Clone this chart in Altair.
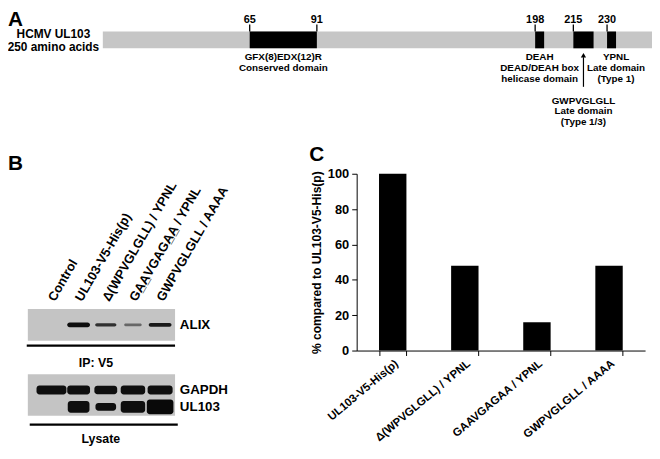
import altair as alt
import pandas as pd

FONT = "Liberation Sans"

# ---------------- Panel A data (amino-acid positions) ----------------
protein_length = 250
domain_start = [65, 198, 215, 230]
domain_end = [92, 202, 224, 234]
tick_pos = [65, 92, 198, 215, 230]
tick_text = ["65", "91", "198", "215", "230"]
desc_text = ["GFX(8)EDX(12)R\nConserved domain",
             "DEAH\nDEAD/DEAH box\nhelicase domain",
             "YPNL\nLate domain\n(Type 1)"]
desc_mid = [78.5, 200, 234]
late_text = "GWPVGLGLL\nLate domain\n(Type 1/3)"
late_mid = 219.5

# ---------------- Panel B data (western blot) ----------------
lanes = [1, 2, 3, 4, 5]
lane_names = ["Control", "UL103-V5-His(p)", "\u0394(WPVGLGLL) / YPNL",
              "GA\u0332A\u0332VGAGA\u0332A\u0332 / YPNL", "GWPVGLGLL / AAAA"]
alix_intensity = [0, 0.95, 0.75, 0.45, 0.88]
alix_thickness = [0, 5, 3.5, 3, 4]
alix_width = [0, 0.84, 0.78, 0.65, 0.84]
gapdh_intensity = [0.95, 0.95, 0.95, 0.95, 0.95]
gapdh_thickness = [9, 9, 8.5, 9, 9]
gapdh_width = [1.1, 0.84, 0.84, 0.9, 0.92]
ul103_intensity = [0, 0.95, 0.95, 0.95, 0.97]
ul103_thickness = [0, 12, 8, 12, 15]
ul103_width = [0, 0.8, 0.76, 0.9, 0.98]
row_names = ["ALIX", "GAPDH", "UL103"]
row_center = [28, 94, 111]

# ---------------- Panel C data ----------------
constructs = ["UL103-V5-His(p)", "\u0394(WPVGLGLL) / YPNL",
              "GAAVGAGAA / YPNL", "GWPVGLGLL / AAAA"]
percent = [100, 48, 16, 48]

# ---------------- scales (layout) ----------------
W, H = 652, 451
xA = alt.Scale(domain=[0, 65, 92, 198, 250], range=[96, 244.7, 312.7, 533.7, 652],
               nice=False, zero=False)
xB = alt.Scale(domain=[1, 5], range=[44, 154], nice=False, zero=False)
yB = alt.Scale(domain=[0, 160], range=[290, 450], nice=False, zero=False)

layers = []


def text_layer(label, x, y, size, align="center", baseline="middle", angle=0, line_height=None):
    props = dict(font=FONT, fontSize=size, fontWeight="bold", color="black",
                 align=align, baseline=baseline, lineBreak="\n")
    if angle:
        props["angle"] = angle
    if line_height:
        props["lineHeight"] = line_height
    return alt.Chart(pd.DataFrame({"label": [label]})).mark_text(**props).encode(
        x=alt.value(x), y=alt.value(y), text="label:N")


# ---- Panel A ----
dfP = pd.DataFrame({"s": [0], "e": [protein_length]})
layers.append(alt.Chart(dfP).mark_rect(color="#c6c6c6").encode(
    x=alt.X("s:Q", scale=xA, axis=None), x2="e:Q",
    y=alt.value(21), y2=alt.value(38)))
dfD = pd.DataFrame({"s": domain_start, "e": domain_end})
layers.append(alt.Chart(dfD).mark_rect(color="black").encode(
    x=alt.X("s:Q", scale=xA, axis=None), x2="e:Q",
    y=alt.value(21), y2=alt.value(38)))
dfT = pd.DataFrame({"p": tick_pos, "t": tick_text})
layers.append(alt.Chart(dfT).mark_rule(color="black", strokeWidth=1.3).encode(
    x=alt.X("p:Q", scale=xA, axis=None), y=alt.value(14), y2=alt.value(21)))
layers.append(alt.Chart(dfT).mark_text(font=FONT, fontSize=11, fontWeight="bold",
                                       color="black", baseline="middle").encode(
    x=alt.X("p:Q", scale=xA, axis=None), y=alt.value(9), text="t:N"))
dfDesc = pd.DataFrame({"m": desc_mid, "t": desc_text})
layers.append(alt.Chart(dfDesc).mark_text(font=FONT, fontSize=10, fontWeight="bold",
                                          color="black", baseline="top", lineBreak="\n",
                                          lineHeight=11).encode(
    x=alt.X("m:Q", scale=xA, axis=None), y=alt.value(42), text="t:N"))
dfL = pd.DataFrame({"m": [late_mid], "t": [late_text]})
layers.append(alt.Chart(dfL).mark_rule(color="black", strokeWidth=1.2).encode(
    x=alt.X("m:Q", scale=xA, axis=None), y=alt.value(47), y2=alt.value(77)))
layers.append(alt.Chart(dfL).mark_point(shape="triangle-up", filled=True, color="black",
                                        size=28, opacity=1).encode(
    x=alt.X("m:Q", scale=xA, axis=None), y=alt.value(45)))
layers.append(alt.Chart(dfL).mark_text(font=FONT, fontSize=10, fontWeight="bold",
                                       color="black", baseline="top", lineBreak="\n",
                                       lineHeight=11).encode(
    x=alt.X("m:Q", scale=xA, axis=None), y=alt.value(86), text="t:N"))
layers.append(text_layer("HCMV UL103\n250 amino acids", 46, 19, 12, baseline="top", line_height=13))
layers.append(text_layer("A", 0, -2, 21, align="left", baseline="top"))

# ---- Panel B ----
dfBlot = pd.DataFrame({"x0": [0.13, 0.13], "x1": [5.55, 5.55], "y0": [12, 78], "y1": [44, 120]})
layers.append(alt.Chart(dfBlot).mark_rect(color="#c4c4c4").encode(
    x=alt.X("x0:Q", scale=xB, axis=None), x2="x1:Q",
    y=alt.Y("y0:Q", scale=yB, axis=None), y2="y1:Q"))

band_rows = []
for name, center, inten, thick, wid in [
        ("ALIX", row_center[0], alix_intensity, alix_thickness, alix_width),
        ("GAPDH", row_center[1], gapdh_intensity, gapdh_thickness, gapdh_width),
        ("UL103", row_center[2], ul103_intensity, ul103_thickness, ul103_width)]:
    for ln, i, t, w in zip(lanes, inten, thick, wid):
        if t > 0:
            band_rows.append({"protein": name, "lane": ln, "intensity": i,
                              "x0": ln - w / 2, "x1": ln + w / 2,
                              "y0": center - t / 2, "y1": center + t / 2})
dfBands = pd.DataFrame(band_rows)
layers.append(alt.Chart(dfBands).mark_rect(cornerRadius=3).encode(
    x=alt.X("x0:Q", scale=xB, axis=None), x2="x1:Q",
    y=alt.Y("y0:Q", scale=yB, axis=None), y2="y1:Q",
    color=alt.Color("intensity:Q", scale=alt.Scale(domain=[0, 1], range=["#c4c4c4", "#000000"]),
                    legend=None)))

dfLanes = pd.DataFrame({"lane": lanes, "name": lane_names})
layers.append(alt.Chart(dfLanes).mark_text(font=FONT, fontSize=13, fontWeight="bold",
                                           color="black", align="left", baseline="middle",
                                           angle=300).encode(
    x=alt.X("lane:Q", scale=xB, axis=None), y=alt.value(293), text="name:N"))

dfLines = pd.DataFrame({"x0": [0.09, 0.2], "x1": [5.55, 5.65], "y": [49, 129]})
layers.append(alt.Chart(dfLines).mark_rule(color="black", strokeWidth=2.2).encode(
    x=alt.X("x0:Q", scale=xB, axis=None), x2="x1:Q",
    y=alt.Y("y:Q", scale=yB, axis=None)))

dfRows = pd.DataFrame({"r": row_names, "c": row_center})
layers.append(alt.Chart(dfRows).mark_text(font=FONT, fontSize=13.5, fontWeight="bold",
                                          color="black", align="left", baseline="middle").encode(
    x=alt.value(174), y=alt.Y("c:Q", scale=yB, axis=None), text="r:N"))
layers.append(text_layer("IP: V5", 89, 357, 12.5))
layers.append(text_layer("Lysate", 94, 434, 12.5))
layers.append(text_layer("B", 0, 144, 21, align="left", baseline="top"))

# ---- Panel C ----
dfC = pd.DataFrame({"construct": constructs, "percent": percent})
layers.append(alt.Chart(dfC).mark_bar(color="black").encode(
    x=alt.X("construct:N",
            scale=alt.Scale(domain=constructs, range=[353, 645], paddingInner=0.62, paddingOuter=0.31),
            axis=alt.Axis(title=None, orient="bottom", offset=-(H - 344), labelAngle=320,
                          labelAlign="right", labelBaseline="top", labelFont=FONT,
                          labelFontSize=11.5, labelFontWeight="bold", labelColor="black",
                          labelPadding=2, tickBand="extent", tickSize=5, tickColor="black",
                          domainColor="black", labelLimit=400, grid=False)),
    y=alt.Y("percent:Q", scale=alt.Scale(domain=[0, 100], range=[344, 165], nice=False),
            axis=alt.Axis(title="% compared to UL103-V5-His(p)", orient="left", offset=-353,
                          values=[0, 20, 40, 60, 80, 100], tickSize=5, tickColor="black",
                          domainColor="black", labelFont=FONT, labelFontSize=13,
                          labelFontWeight="bold", labelColor="black", labelPadding=3,
                          titleFont=FONT, titleFontSize=12.2, titleFontWeight="bold",
                          titleColor="black", titlePadding=4, grid=False))))
layers.append(text_layer("C", 305, 135, 21, align="left", baseline="top"))

chart = alt.layer(*layers).resolve_scale(
    x="independent", y="independent", color="independent"
).resolve_axis(x="independent", y="independent").properties(
    width=W, height=H, padding=0, autosize=alt.AutoSizeParams(type="none")
).configure(font=FONT, view=alt.ViewConfig(stroke=None))

chart.save("out.html", embed_options={"renderer": "svg", "actions": False})
